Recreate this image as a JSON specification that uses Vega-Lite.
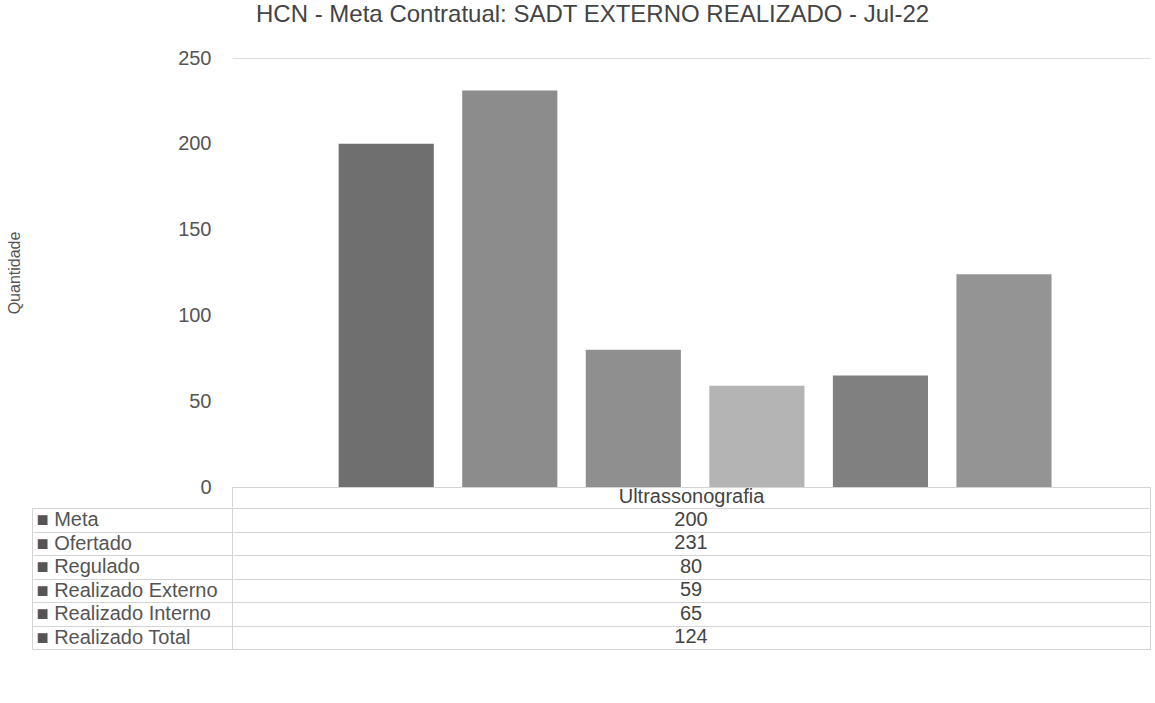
{
  "$schema": "https://vega.github.io/schema/vega-lite/v6.json",
  "padding": {"left": 6, "right": 3, "top": 3, "bottom": 5},
  "background": "white",
  "title": {"text": "HCN - Meta Contratual: SADT EXTERNO REALIZADO - Jul-22", "font": "Liberation Sans", "fontSize": 24, "fontWeight": "normal", "color": "#444", "anchor": "middle", "dx": 14, "offset": 21},
  "datasets": {
    "rows": [
      {"exame": "Ultrassonografia", "serie": "Meta", "valor": 200},
      {"exame": "Ultrassonografia", "serie": "Ofertado", "valor": 231},
      {"exame": "Ultrassonografia", "serie": "Regulado", "valor": 80},
      {"exame": "Ultrassonografia", "serie": "Realizado Externo", "valor": 59},
      {"exame": "Ultrassonografia", "serie": "Realizado Interno", "valor": 65},
      {"exame": "Ultrassonografia", "serie": "Realizado Total", "valor": 124}
    ]
  },
  "config": {
    "font": "Liberation Sans",
    "view": {"stroke": null},
    "concat": {"spacing": -12}
  },
  "vconcat": [
    {
      "width": 918,
      "height": 429,
      "data": {"name": "rows"},
      "mark": {"type": "bar"},
      "encoding": {
        "x": {"field": "exame", "type": "nominal", "title": null,
          "scale": {"paddingInner": 0, "paddingOuter": 0},
          "axis": {"labelAngle": 0, "labelFontSize": 20, "labelColor": "#444", "labelPadding": -21, "domainColor": "#d4d4d4", "tickColor": "#d4d4d4", "tickSize": 20, "tickBand": "extent", "grid": false, "minExtent": 0, "maxExtent": 20}},
        "xOffset": {"field": "serie", "type": "nominal",
          "sort": ["Meta", "Ofertado", "Regulado", "Realizado Externo", "Realizado Interno", "Realizado Total"],
          "scale": {"paddingInner": 0.23, "paddingOuter": 0.83, "align": 0.52}},
        "y": {"field": "valor", "type": "quantitative", "title": "Quantidade",
          "scale": {"domain": [0, 250]},
          "axis": {"values": [0, 50, 100, 150, 200, 250], "ticks": false, "domain": false, "labelPadding": 21, "labelFontSize": 20, "labelColor": "#555",
            "grid": true, "gridColor": {"condition": {"test": "datum.value === 250", "value": "#dedede"}, "value": "transparent"},
            "titleFontSize": 16, "titleFontWeight": "normal", "titleColor": "#555", "titlePadding": 155}},
        "color": {"field": "serie", "type": "nominal", "legend": null,
          "scale": {"domain": ["Meta", "Ofertado", "Regulado", "Realizado Externo", "Realizado Interno", "Realizado Total"],
            "range": ["#6f6f6f", "#8c8c8c", "#8f8f8f", "#b4b4b4", "#808080", "#949494"]}}
      }
    },
    {
      "width": 918,
      "height": 141,
      "data": {"name": "rows"},
      "view": {"stroke": "#d4d4d4"},
      "mark": {"type": "text", "fontSize": 20, "color": "#444"},
      "encoding": {
        "x": {"field": "exame", "type": "nominal", "axis": null},
        "y": {"field": "serie", "type": "nominal", "title": null,
          "sort": ["Meta", "Ofertado", "Regulado", "Realizado Externo", "Realizado Interno", "Realizado Total"],
          "scale": {"paddingInner": 0, "paddingOuter": 0},
          "axis": {"offset": 200, "tickSize": -200, "tickBand": "extent", "tickColor": "#d4d4d4", "domainColor": "#d4d4d4",
            "grid": true, "gridColor": "#d4d4d4", "labelAlign": "left", "labelPadding": 196, "labelLimit": 0, "labelFontSize": 20, "labelColor": "#555",
            "labelExpr": "datum.label ? '■ ' + datum.label : ''"}},
        "text": {"field": "valor", "type": "quantitative"}
      }
    }
  ]
}
